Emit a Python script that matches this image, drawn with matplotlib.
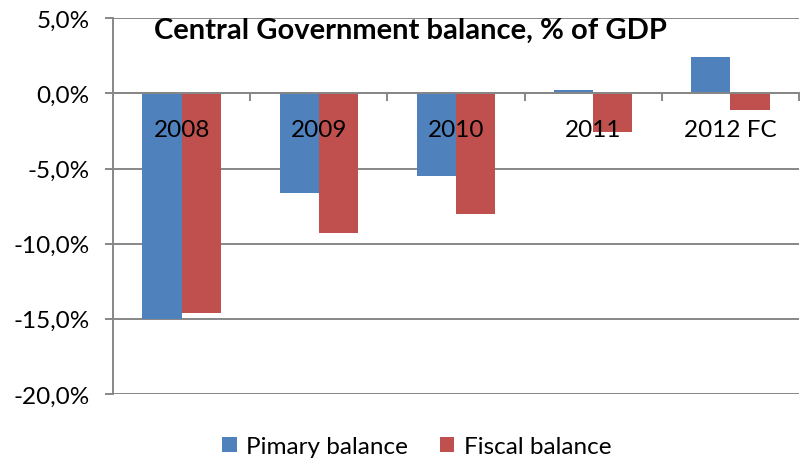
import matplotlib
matplotlib.use("Agg")
import matplotlib.pyplot as plt
import numpy as np
from matplotlib.ticker import FuncFormatter, FixedLocator

plt.rcParams['font.family'] = ['Lato', 'DejaVu Sans']

years = ["2008", "2009", "2010", "2011", "2012 FC"]
primary_balance = [-15.0, -6.6, -5.5, 0.2, 2.4]
fiscal_balance = [-14.6, -9.3, -8.0, -2.6, -1.1]
series_names = ["Pimary balance", "Fiscal balance"]
colors = ["#4F81BD", "#C0504D"]
grid_color = "#878787"

fig = plt.figure(figsize=(8, 4.6), dpi=100)
ax = fig.add_axes([0.14125, 0.1416, 0.8575, 0.8164])

x = np.arange(len(years))
width = 1 / 1.75 / 2
ax.bar(x - width / 2, primary_balance, width, color=colors[0], label=series_names[0], zorder=3)
ax.bar(x + width / 2, fiscal_balance, width, color=colors[1], label=series_names[1], zorder=3)

ax.set_xlim(-0.5, len(years) - 0.5)
ax.set_ylim(-20, 5)
ax.set_yticks(np.arange(-20, 5.1, 5))
ax.yaxis.set_major_formatter(FuncFormatter(lambda v, p: f"{v:.1f}%".replace(".", ",")))
ax.grid(axis="y", color=grid_color, linewidth=1.4, zorder=0)
ax.set_axisbelow(True)

for s in ["top", "right"]:
    ax.spines[s].set_visible(False)
ax.spines["left"].set_color(grid_color)
ax.spines["left"].set_linewidth(1.4)
ax.spines["bottom"].set_position(("data", 0))
ax.spines["bottom"].set_color(grid_color)
ax.spines["bottom"].set_linewidth(1.4)
ax.spines["bottom"].set_zorder(4)

ax.tick_params(axis="y", length=6, width=1.4, color=grid_color, labelsize=17.5, pad=11)
ax.set_xticks(x)
ax.set_xticklabels([])
ax.tick_params(axis="x", which="major", length=0)
ax.xaxis.set_minor_locator(FixedLocator(np.arange(0.5, len(years), 1)))
ax.tick_params(axis="x", which="minor", length=6, width=1.4, color=grid_color, direction="out")

# category names sit just under the zero line, above the bars
for xi, name in zip(x, years):
    ax.annotate(name, xy=(xi, 0), xytext=(0, -26), textcoords="offset points",
                ha="center", va="center", fontsize=17.5, zorder=6)

fig.text(0.513, 0.932, "Central Government balance, % of GDP", ha="center", va="center",
         fontsize=21, fontweight="bold")

ax.legend(loc="center", bbox_to_anchor=(0.443, -0.14), ncol=2, frameon=False,
          fontsize=17.5, handlelength=0.6, handleheight=0.6, columnspacing=1.3, handletextpad=0.4)

fig.savefig("out.png", dpi=100)
